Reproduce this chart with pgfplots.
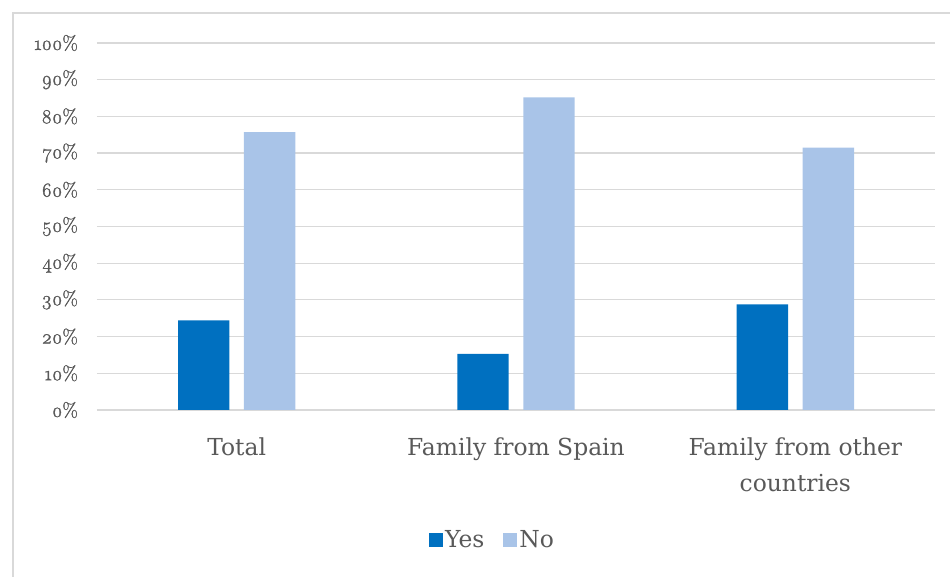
\documentclass[border=0pt]{standalone}
\usepackage{pgfplots}
\pgfplotsset{compat=1.18}
\usepackage{fontspec}
\setmainfont{DejaVu Serif}
\newfontfamily\lmold{Latin Modern Roman}[Numbers=OldStyle, FakeBold=1.5]
\definecolor{yescol}{HTML}{0070C0}
\definecolor{nocol}{HTML}{A9C4E8}
\definecolor{gridc}{HTML}{D9D9D9}
\definecolor{txt}{HTML}{595959}
\begin{document}
\begin{tikzpicture}[x=1bp,y=1bp]
\path[use as bounding box] (-97,-167) rectangle (853,410);
\draw[gridc, line width=1.2bp] (-84,-167) -- (-84,397) -- (853,397);
\begin{axis}[
  at={(0,0)}, anchor=south west,
  scale only axis, width=838bp, height=367bp,
  xmin=-0.5, xmax=2.5, ymin=0, ymax=100,
  axis line style={draw=none},
  ymajorgrids, grid style={gridc, line width=1.2bp},
  major tick length=0pt, tick style={draw=none},
  ytick={0,10,20,30,40,50,60,70,80,90,100},
  yticklabels={0\%,10\%,20\%,30\%,40\%,50\%,60\%,70\%,80\%,90\%,100\%},
  yticklabel style={font={\lmold\fontsize{20}{20}\selectfont}, text=txt, anchor=east, inner sep=0pt, xshift=-19bp},
  xtick={0,1,2},
  xticklabels={Total, Family from Spain, Family from other\\countries},
  xticklabel style={font={\fontsize{23.5}{36}\selectfont}, text=txt, align=center, anchor=north, inner sep=0pt, yshift=-28bp},
  ybar, bar width=0.184,
  legend style={at={(0.472,-0.354)}, anchor=center, draw=none, fill=none,
     legend columns=2, font={\fontsize{23.5}{28}\selectfont}, text=txt,
     /tikz/every even column/.append style={column sep=17bp}},
  legend image code/.code={\fill[#1] (0bp,-7bp) rectangle (14bp,7bp);},
]
\addplot[fill=yescol, draw=none, bar shift=-0.118] coordinates {(0,24.4) (1,15.3) (2,28.8)};
\addplot[fill=nocol, draw=none, bar shift=0.118] coordinates {(0,75.7) (1,85.2) (2,71.5)};
\legend{Yes, No}
\end{axis}
\end{tikzpicture}
\end{document}
